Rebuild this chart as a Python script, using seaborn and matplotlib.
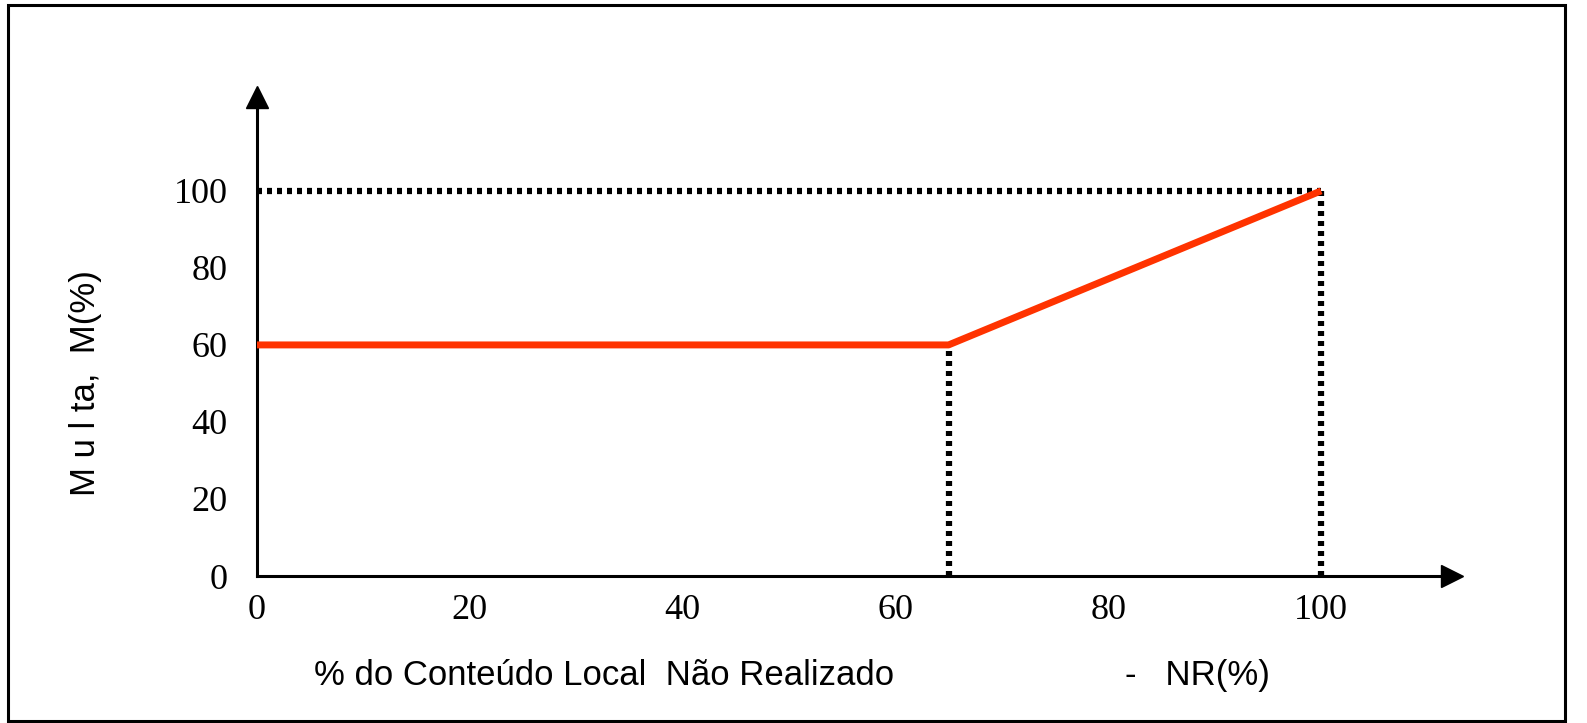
import matplotlib
matplotlib.use("Agg")
import matplotlib.pyplot as plt
import seaborn as sns
import pandas as pd

# penalty curve: M(%) vs NR(%)
nr_points = [0, 65, 100]
multa_points = [60, 60, 100]
x_ticks = [0, 20, 40, 60, 80, 100]
y_ticks = [0, 20, 40, 60, 80, 100]

sns.set_style("white")
plt.rcParams["lines.scale_dashes"] = False
plt.rcParams["text.color"] = "black"

fig = plt.figure(figsize=(15.87, 7.23), dpi=100)
ax = fig.add_axes([0.1617, 0.2033, 0.915 - 0.1617, 0.866 - 0.2033])

# dotted guide lines
dots = dict(color="black", lw=4.5, dashes=(3.6, 3.6), solid_capstyle="butt")
ax.plot([0, 100], [100, 100], **dots)
ax.plot([65, 65], [0, 60], **dots)
ax.plot([100, 100], [0, 100], **dots)

df = pd.DataFrame({"NR": nr_points, "M": multa_points})
sns.lineplot(data=df, x="NR", y="M", color="#FF3300", lw=5, ax=ax,
             solid_capstyle="butt", zorder=3)

ax.set_xlim(0, 112.3)
ax.set_ylim(0, 124.4)
ax.set_xticks(x_ticks)
ax.set_yticks(y_ticks)
ax.set_xticklabels([str(v) for v in x_ticks], family="Liberation Serif", fontsize=26)
ax.set_yticklabels([str(v) for v in y_ticks], family="Liberation Serif", fontsize=26)
ax.tick_params(axis="x", direction="out", length=10, width=2.2, pad=3,
               color="black", labelcolor="black")
ax.tick_params(axis="y", direction="out", length=12, width=2.2, pad=9,
               color="black", labelcolor="black")
ax.set_xlabel("")
ax.set_ylabel("")

for s in ["top", "right"]:
    ax.spines[s].set_visible(False)
for s in ["left", "bottom"]:
    ax.spines[s].set_linewidth(2.2)
    ax.spines[s].set_color("black")

# axis arrows
ax.plot(1, 0, ">", color="black", ms=16, transform=ax.get_yaxis_transform(), clip_on=False)
ax.plot(0, 1, "^", color="black", ms=16, transform=ax.get_xaxis_transform(), clip_on=False)

fig.text(0.198, 0.066, "% do Conteúdo Local  Não Realizado", family="Liberation Sans",
         fontsize=25, ha="left", va="center", color="black")
fig.text(0.709, 0.066, "-   NR(%)", family="Liberation Sans",
         fontsize=25, ha="left", va="center", color="black")
fig.text(0.054, 0.47, "M u l ta,  M(%)", family="Liberation Sans",
         fontsize=25, rotation=90, ha="center", va="center", color="black")

# frame around the figure
fig.add_artist(plt.Rectangle((0.005, 0.003), 0.981, 0.99, transform=fig.transFigure,
                             fill=False, lw=2.2, edgecolor="black"))

fig.savefig("out.png", dpi=100)
